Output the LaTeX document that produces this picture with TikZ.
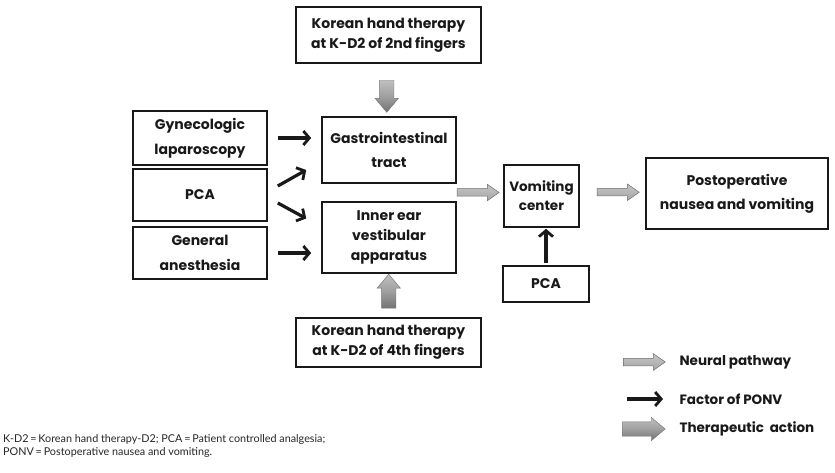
\documentclass[tikz,border=0pt]{standalone}
\usepackage{fontspec}
\setmainfont{Poppins}
\newfontfamily\fnfont{Lato}
\usetikzlibrary{shapes.arrows,arrows.meta,calc}
\begin{document}
\begin{tikzpicture}[x=1pt,y=-1pt,
  box/.style={draw=black!90,line width=1.6pt,inner sep=0pt,align=center,
    font=\bfseries\fontsize{14}{20}\selectfont,text=black!90},
  factor/.style={draw=black!90,line width=3.2pt,
    -{Straight Barb[length=6pt,width=14pt,line width=2.8pt]}},
  neural/.style={single arrow,draw=gray!85!black,line width=0.5pt,inner xsep=0pt,inner ysep=3.5pt,
    single arrow head extend=4.5pt,single arrow tip angle=70,single arrow head indent=0pt,
    top color=gray!45,middle color=gray!8,bottom color=gray!70,shading angle=0},
  therapy/.style={single arrow,draw=gray!90!black,line width=0.4pt,inner xsep=0pt,inner ysep=7pt,
    single arrow head extend=4.5pt,single arrow tip angle=80,single arrow head indent=0pt,
    top color=gray!50,bottom color=gray!90!black,middle color=gray!75},
  legtext/.style={anchor=west,font=\bfseries\fontsize{13.5}{15}\selectfont,text=black!90}]
\useasboundingbox (0,0) rectangle (835,473);

\node[box,minimum width=185pt,minimum height=56pt] (top) at (388.5,35) {Korean hand therapy\\at K-D2 of 2nd fingers};
\node[box,minimum width=134pt,minimum height=66pt,font=\bfseries\fontsize{14}{24}\selectfont] (gi) at (389,150) {Gastrointestinal\\tract};
\node[box,minimum width=134pt,minimum height=71pt] (ie) at (389,237.5) {Inner ear\\vestibular\\apparatus};
\node[box,minimum width=134pt,minimum height=54pt,font=\bfseries\fontsize{14}{25}\selectfont] (gyn) at (200,138) {Gynecologic\\laparoscopy};
\node[box,minimum width=134pt,minimum height=52pt] (pca) at (200,195) {PCA};
\node[box,minimum width=134pt,minimum height=52pt,font=\bfseries\fontsize{14}{25}\selectfont] (gen) at (200,253) {General\\anesthesia};
\node[box,minimum width=75pt,minimum height=62pt,font=\bfseries\fontsize{13.5}{19}\selectfont] (vc) at (541.5,196) {Vomiting\\center};
\node[box,minimum width=182pt,minimum height=71pt,font=\bfseries\fontsize{14}{24}\selectfont] (ponv) at (737,193.5) {Postoperative\\nausea and vomiting};
\node[box,minimum width=86pt,minimum height=36pt] (pcab) at (546,284) {PCA};
\node[box,minimum width=185pt,minimum height=49pt] (bot) at (388.5,342.5) {Korean hand therapy\\at K-D2 of 4th fingers};

% factor arrows
\draw[factor,shorten <=10pt,shorten >=10pt] (gyn.east) -- (gyn.east -| gi.west);
\draw[factor] ([shift={(10,-9)}]pca.east) -- ([shift={(-15,20)}]gi.west);
\draw[factor] ([shift={(10,8)}]pca.east) -- ([shift={(-15,-19)}]ie.west);
\draw[factor,shorten <=10pt,shorten >=10pt] (gen.east) -- (gen.east -| ie.west);
\draw[factor,shorten <=2pt,shorten >=1pt] (pcab.north) -- (pcab.north |- vc.south);

% neural pathway arrows
\node[neural,minimum height=42pt,anchor=tail] (n1) at ($(gi.south east)!0.5!(ie.north east)$) {};
\node[neural,minimum height=42pt] (n2) at ($(vc.east)!0.5!(ponv.west)+(3,-2.5)$) {};

% therapeutic arrows
\node[therapy,minimum height=32pt,rotate=-90] (t1) at ($(top.south)!0.5!(gi.north)+(-2,2)$) {};
\node[therapy,minimum height=34pt,rotate=90] (t2) at ($(ie.south)!0.5!(bot.north)$) {};

% legend
\node[neural,minimum height=42pt,anchor=tail] (ln) at (623,362) {};
\node[legtext] (lnt) at (676,362) {Neural pathway};
\coordinate (lfs) at (627,399);
\coordinate (lfe) at (663,399);
\draw[factor] (lfs) -- (lfe);
\node[legtext] (lft) at (676,399) {Factor of PONV};
\node[therapy,minimum height=43pt,anchor=tail] (lt) at (622,429) {};
\node[legtext] (ltt) at (676,429) {Therapeutic\ \ action};

% footnote
\node[anchor=north west,align=left,inner sep=0pt,font=\fnfont\fontsize{10.8}{13}\selectfont,text=black!85] (fn) at (3,434)
  {K-D2\,=\,Korean hand therapy-D2; PCA\,=\,Patient controlled analgesia;\\PONV\,=\,Postoperative nausea and vomiting.};
\end{tikzpicture}
\end{document}
